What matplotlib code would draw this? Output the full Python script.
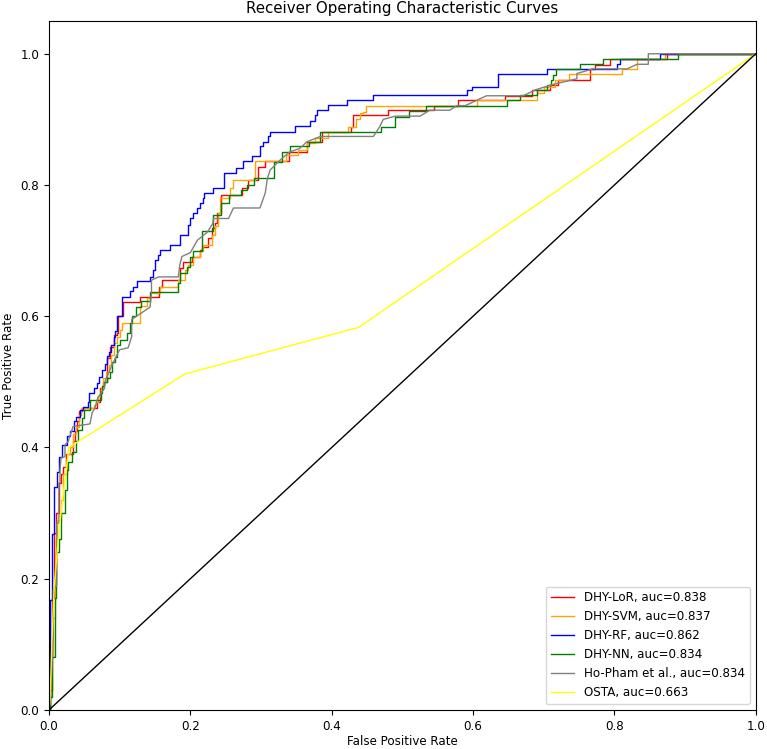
import matplotlib
matplotlib.use("Agg")
import matplotlib.pyplot as plt

# ROC step curves: (fpr, tpr) at each jump
lor_pts = [(0, 0), (0.0014, 0.03), (0.004, 0.17), (0.007, 0.27), (0.010, 0.30), (0.014, 0.346),
           (0.017, 0.36), (0.02, 0.37), (0.024, 0.39), (0.034, 0.41), (0.037, 0.425), (0.04, 0.44),
           (0.043, 0.455), (0.046, 0.46), (0.068, 0.47), (0.0726, 0.49), (0.077, 0.50), (0.082, 0.536),
           (0.087, 0.553), (0.0915, 0.571), (0.096, 0.575), (0.098, 0.60), (0.105, 0.622), (0.129, 0.63),
           (0.155, 0.645), (0.16, 0.655), (0.185, 0.673), (0.19, 0.683), (0.202, 0.691), (0.214, 0.701),
           (0.216, 0.706), (0.225, 0.72), (0.23, 0.735), (0.235, 0.742), (0.237, 0.757), (0.244, 0.785),
           (0.2727, 0.795), (0.282, 0.808), (0.296, 0.828), (0.305, 0.836), (0.34, 0.85), (0.365, 0.866),
           (0.386, 0.881), (0.428, 0.889), (0.4306, 0.907), (0.48, 0.914), (0.545, 0.921), (0.579, 0.929),
           (0.645, 0.935), (0.683, 0.945), (0.709, 0.953), (0.72, 0.96), (0.766, 0.977), (0.773, 0.983),
           (0.794, 0.992), (0.874, 1.0), (1.0, 1.0)]

svm_pts = [(0, 0), (0.0014, 0.035), (0.003, 0.08), (0.005, 0.14), (0.008, 0.2), (0.010, 0.26),
           (0.012, 0.29), (0.017, 0.32), (0.02, 0.36), (0.025, 0.39), (0.03, 0.40), (0.034, 0.42),
           (0.038, 0.432), (0.042, 0.45), (0.045, 0.46), (0.063, 0.465), (0.066, 0.47), (0.07, 0.478),
           (0.074, 0.49), (0.077, 0.506), (0.081, 0.515), (0.0845, 0.526), (0.088, 0.541), (0.0915, 0.559),
           (0.096, 0.569), (0.101, 0.579), (0.103, 0.589), (0.129, 0.615), (0.138, 0.628), (0.143, 0.635),
           (0.157, 0.645), (0.183, 0.655), (0.192, 0.671), (0.197, 0.678), (0.204, 0.691), (0.214, 0.699),
           (0.218, 0.709), (0.23, 0.724), (0.235, 0.737), (0.2396, 0.757), (0.242, 0.78), (0.256, 0.795),
           (0.261, 0.808), (0.2915, 0.836), (0.335, 0.845), (0.353, 0.854), (0.365, 0.864), (0.376, 0.872),
           (0.395, 0.881), (0.4235, 0.889), (0.435, 0.9), (0.44, 0.91), (0.445, 0.912), (0.4486, 0.921),
           (0.605, 0.93), (0.69, 0.94), (0.70, 0.95), (0.716, 0.96), (0.736, 0.969), (0.811, 0.977),
           (0.832, 0.992), (0.872, 1.0), (1.0, 1.0)]

rf_pts = [(0, 0), (0.0014, 0.168), (0.004, 0.268), (0.0075, 0.34), (0.011, 0.363), (0.0146, 0.386),
          (0.019, 0.404), (0.0255, 0.417), (0.030, 0.425), (0.035, 0.44), (0.038, 0.447), (0.044, 0.457),
          (0.048, 0.462), (0.055, 0.47), (0.056, 0.483), (0.063, 0.49), (0.068, 0.498), (0.071, 0.508),
          (0.075, 0.518), (0.079, 0.528), (0.082, 0.539), (0.0845, 0.546), (0.088, 0.556), (0.0915, 0.569),
          (0.094, 0.577), (0.0958, 0.60), (0.103, 0.63), (0.1146, 0.638), (0.119, 0.645), (0.125, 0.653),
          (0.143, 0.66), (0.1476, 0.671), (0.15, 0.686), (0.1547, 0.694), (0.157, 0.701), (0.171, 0.709),
          (0.186, 0.724), (0.196, 0.739), (0.2, 0.749), (0.204, 0.757), (0.209, 0.765), (0.214, 0.772),
          (0.218, 0.78), (0.22, 0.788), (0.2325, 0.795), (0.247, 0.818), (0.265, 0.826), (0.275, 0.836),
          (0.287, 0.844), (0.2985, 0.859), (0.303, 0.866), (0.31, 0.874), (0.3127, 0.881), (0.348, 0.89),
          (0.369, 0.897), (0.376, 0.907), (0.379, 0.914), (0.395, 0.922), (0.421, 0.93), (0.459, 0.9375),
          (0.591, 0.945), (0.598, 0.95), (0.636, 0.969), (0.704, 0.977), (0.803, 0.984), (0.808, 0.992),
          (0.864, 1.0), (1.0, 1.0)]

nn_pts = [(0, 0), (0.0014, 0.02), (0.004, 0.08), (0.008, 0.17), (0.01, 0.24), (0.014, 0.26),
          (0.017, 0.30), (0.022, 0.335), (0.025, 0.366), (0.027, 0.378), (0.032, 0.393), (0.038, 0.41),
          (0.041, 0.427), (0.047, 0.445), (0.05, 0.457), (0.058, 0.472), (0.073, 0.483), (0.075, 0.493),
          (0.078, 0.50), (0.082, 0.506), (0.086, 0.515), (0.089, 0.53), (0.093, 0.538), (0.096, 0.556),
          (0.101, 0.564), (0.11, 0.574), (0.115, 0.59), (0.118, 0.6), (0.123, 0.614), (0.13, 0.623),
          (0.143, 0.637), (0.183, 0.651), (0.186, 0.666), (0.195, 0.675), (0.2, 0.69), (0.204, 0.70),
          (0.216, 0.73), (0.2325, 0.755), (0.243, 0.772), (0.254, 0.785), (0.272, 0.793), (0.28, 0.80),
          (0.29, 0.81), (0.319, 0.835), (0.329, 0.851), (0.341, 0.859), (0.368, 0.866), (0.383, 0.874),
          (0.384, 0.881), (0.47, 0.889), (0.49, 0.904), (0.51, 0.913), (0.534, 0.92), (0.648, 0.93),
          (0.666, 0.9375), (0.69, 0.945), (0.705, 0.953), (0.71, 0.96), (0.713, 0.968), (0.718, 0.977),
          (0.751, 0.985), (0.784, 0.992), (0.89, 1.0), (1.0, 1.0)]

# Ho-Pham has tied scores, so it is a polyline with slanted bits
hopham_pts = [(0, 0), (0.003, 0.04), (0.006, 0.11), (0.006, 0.183), (0.011, 0.19), (0.011, 0.285),
              (0.014, 0.285), (0.014, 0.346), (0.0156, 0.346), (0.0156, 0.366), (0.017, 0.384),
              (0.0226, 0.386), (0.0226, 0.404), (0.027, 0.409), (0.034, 0.432), (0.058, 0.436),
              (0.061, 0.453), (0.065, 0.46), (0.069, 0.476), (0.0785, 0.49), (0.08, 0.503), (0.086, 0.518),
              (0.096, 0.541), (0.1, 0.549), (0.112, 0.552), (0.117, 0.569), (0.117, 0.595), (0.143, 0.614),
              (0.145, 0.636), (0.145, 0.655), (0.155, 0.66), (0.183, 0.66), (0.185, 0.678), (0.188, 0.691),
              (0.2, 0.697), (0.21, 0.716), (0.224, 0.728), (0.232, 0.742), (0.2325, 0.749), (0.254, 0.749),
              (0.261, 0.765), (0.2985, 0.765), (0.306, 0.788), (0.309, 0.81), (0.313, 0.823), (0.327, 0.838),
              (0.34, 0.85), (0.355, 0.856), (0.365, 0.866), (0.384, 0.874), (0.459, 0.874), (0.468, 0.889),
              (0.473, 0.9), (0.49, 0.905), (0.525, 0.905), (0.539, 0.914), (0.567, 0.914), (0.577, 0.921),
              (0.589, 0.921), (0.605, 0.929), (0.619, 0.936), (0.671, 0.936), (0.688, 0.945), (0.712, 0.953),
              (0.747, 0.962), (0.747, 0.97), (0.77, 0.977), (0.818, 0.977), (0.832, 0.984), (0.848, 0.984),
              (0.848, 1.0), (1.0, 1.0)]

osta_pts = [(0, 0), (0.0014, 0.015), (0.004, 0.1), (0.0075, 0.19), (0.013, 0.26), (0.018, 0.31),
            (0.0226, 0.35), (0.028, 0.40), (0.192, 0.512), (0.438, 0.583), (1.0, 1.0)]

labels = ["DHY-LoR, auc=0.838", "DHY-SVM, auc=0.837", "DHY-RF, auc=0.862",
          "DHY-NN, auc=0.834", "Ho-Pham et al., auc=0.834", "OSTA, auc=0.663"]
colors = ["red", "orange", "blue", "green", "grey", "yellow"]


fig = plt.figure(figsize=(7.67, 7.49), dpi=100)
ax = fig.add_axes([0.0639, 0.0521, 0.9214, 0.9199])

step_curves = [lor_pts, svm_pts, rf_pts, nn_pts]
for pts, lab, col in zip(step_curves, labels[:4], colors[:4]):
    xs, ys = zip(*pts)
    ax.step(xs, ys, where="post", color=col, label=lab, linewidth=1.0)

xs, ys = zip(*hopham_pts)
ax.plot(xs, ys, color=colors[4], label=labels[4], linewidth=1.0)
xs, ys = zip(*osta_pts)
ax.plot(xs, ys, color=colors[5], label=labels[5], linewidth=1.0)

ax.plot([0, 1], [0, 1], color="black", linewidth=1.0)

ax.set_xlim(0, 1)
ax.set_ylim(0, 1.05)
ax.tick_params(labelsize=8.6)
ax.set_xlabel("False Positive Rate", fontsize=8.6, labelpad=2)
ax.set_ylabel("True Positive Rate", fontsize=8.6)
ax.set_title("Receiver Operating Characteristic Curves", fontsize=10.8)
ax.legend(loc="lower right", fontsize=8.6)

fig.savefig("out.png", dpi=100)
